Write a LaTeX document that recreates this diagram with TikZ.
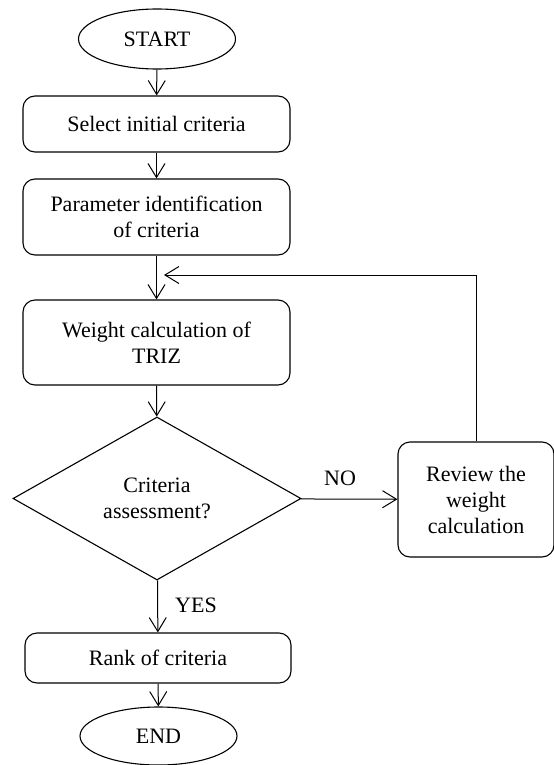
\documentclass[tikz,border=0pt]{standalone}
\usepackage{fontspec}
\setmainfont{Liberation Serif}
\usetikzlibrary{shapes.geometric,arrows.meta,positioning}

\tikzset{
  term/.style={draw, ellipse, line width=1.1bp, minimum width=157bp, minimum height=60bp, inner sep=0pt},
  proc/.style={draw, rounded corners=12bp, line width=1.1bp, minimum width=267bp, align=center, inner sep=0pt},
  deci/.style={draw, diamond, line width=1.1bp, minimum width=288bp, minimum height=163bp, align=center, inner sep=0pt},
  flow/.style={line width=1bp, -{Straight Barb[length=14bp,width=17bp,line width=1bp]}},
}

\begin{document}
\begin{tikzpicture}[x=1bp, y=-1bp, font=\fontsize{22bp}{26bp}\selectfont]
            \useasboundingbox (0,0) rectangle (554,765);

            % start
            \node[term](start)at(157,39){START};
            % steps
            \node[proc, minimum height=56bp](sel)at(156.5,124){Select initial criteria};
            \node[proc, minimum height=76bp](par)at(156.5,217){Parameter identification\\of criteria};
            \node[proc, minimum height=85bp](wei)at(156.5,342.5){Weight calculation of\\TRIZ};
            % decision
            \node[deci](dec)at(157,498.5){Criteria\\assessment?};
            \node[proc, minimum width=156bp, minimum height=115bp](rev)at(476,499.5){Review the\\weight\\calculation};
            \node[proc, minimum width=266bp, minimum height=50bp](rank)at(158,658){Rank of criteria};
            % end
            \node[term, minimum height=58bp](end)at(158.5,736){END};

            % arrows
            \path[draw, flow](start)to(sel);
            \path[draw, flow](sel)to(par);
            \path[draw, flow](par)to(wei);
            \path[draw, flow](wei)to(dec);
            \path[draw, flow](dec)to(rev);
            \path[draw, flow](dec)to(rank);
            \path[draw, flow](rank)to(end);
            % loop back
            \coordinate(back)at(164,275);
            \path[draw, flow](rev.north)|-(back);

            % labels
            \node(no)at(340,478){NO};
            \node(yes)at(196,605){YES};
        \end{tikzpicture}
\end{document}
